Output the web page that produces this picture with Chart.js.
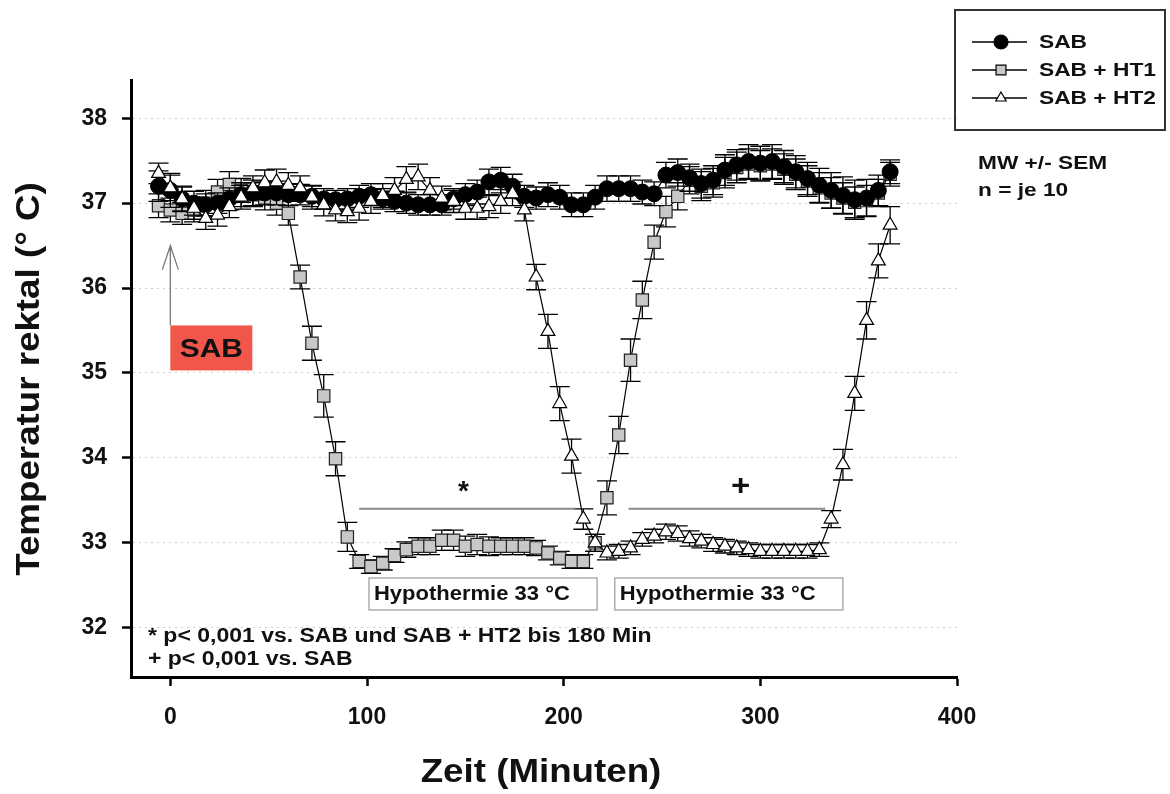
<!DOCTYPE html>
<html>
<head>
<meta charset="utf-8">
<script src="https://cdn.jsdelivr.net/npm/chart.js@4"></script>
<style>
  html, body { margin: 0; padding: 0; background: #fff; }
  #wrap { width: 1170px; height: 794px; }
</style>
</head>
<body>
<div id="wrap"><canvas id="chart" width="1170" height="794"></canvas></div>
<script>
// ---------- data (minutes, rectal temperature °C, SEM) ----------
const times = [
  -6, 0, 6, 12, 18, 24, 30, 36, 42, 48,
  54, 60, 66, 72, 78, 84, 90, 96, 102, 108,
  114, 120, 126, 132, 138, 144, 150, 156, 162, 168,
  174, 180, 186, 192, 198, 204, 210, 216, 222, 228,
  234, 240, 246, 252, 258, 264, 270, 276, 282, 288,
  294, 300, 306, 312, 318, 324, 330, 336, 342, 348,
  354, 360, 366
];

const sab = [
  37.2, 37.15, 37.05, 37.0, 36.98, 37.0, 37.05, 37.1, 37.12, 37.12,
  37.12, 37.1, 37.1, 37.08, 37.05, 37.04, 37.05, 37.08, 37.1, 37.05,
  37.02, 37.0, 36.98, 36.98, 36.98, 37.05, 37.1, 37.13, 37.25, 37.27,
  37.2, 37.08, 37.06, 37.1, 37.07, 36.98, 36.98, 37.07, 37.17, 37.17,
  37.17, 37.13, 37.11, 37.33, 37.36, 37.3, 37.23, 37.27, 37.39, 37.45,
  37.49, 37.47, 37.49, 37.43, 37.37, 37.29, 37.21, 37.15, 37.09, 37.04,
  37.06, 37.15, 37.37
];
const sabSem = [
  0.18, 0.2, 0.15, 0.14, 0.13, 0.12, 0.13, 0.14, 0.15, 0.14,
  0.14, 0.13, 0.12, 0.12, 0.12, 0.11, 0.12, 0.13, 0.13, 0.12,
  0.12, 0.12, 0.12, 0.12, 0.12, 0.12, 0.13, 0.14, 0.15, 0.15,
  0.14, 0.13, 0.13, 0.14, 0.14, 0.14, 0.14, 0.14, 0.15, 0.15,
  0.15, 0.14, 0.14, 0.15, 0.16, 0.16, 0.17, 0.17, 0.18, 0.18,
  0.2, 0.2, 0.2, 0.19, 0.19, 0.19, 0.2, 0.21, 0.22, 0.23,
  0.22, 0.18, 0.14
];

const ht1 = [
  36.97, 36.92, 36.88, 36.92, 37.0, 37.13, 37.22, 37.15, 37.1, 37.06,
  37.0, 36.88, 36.13, 35.35, 34.73, 33.99, 33.07, 32.78, 32.72, 32.76,
  32.85, 32.92, 32.96, 32.96, 33.03, 33.03, 32.96, 32.98, 32.96, 32.96,
  32.96, 32.96, 32.94, 32.88, 32.82, 32.78, 32.78, 33.0, 33.53, 34.27,
  35.15, 35.86, 36.54, 36.9, 37.08, 37.27, 37.2, 37.24, 37.36, 37.42,
  37.46, 37.44, 37.46, 37.4, 37.34, 37.26, 37.18, 37.12, 37.06, 37.01,
  37.03, 37.12, 37.34
];
const ht1Sem = [
  0.14, 0.14, 0.13, 0.14, 0.15, 0.15, 0.15, 0.14, 0.14, 0.14,
  0.14, 0.14, 0.14, 0.2, 0.25, 0.2, 0.17, 0.08, 0.08, 0.08,
  0.08, 0.09, 0.1, 0.1, 0.12, 0.12, 0.12, 0.12, 0.11, 0.1,
  0.1, 0.1, 0.09, 0.08, 0.08, 0.08, 0.08, 0.1, 0.2, 0.22,
  0.25, 0.22, 0.2, 0.18, 0.16, 0.16, 0.17, 0.17, 0.18, 0.18,
  0.18, 0.18, 0.18, 0.18, 0.18, 0.18, 0.18, 0.18, 0.18, 0.18,
  0.18, 0.16, 0.14
];

const ht2 = [
  37.35, 37.18, 37.05, 36.94, 36.82, 36.86, 36.96, 37.07, 37.18, 37.24,
  37.25, 37.21, 37.18, 37.07, 36.98, 36.92, 36.9, 36.94, 37.02, 37.09,
  37.15, 37.28, 37.31, 37.15, 37.06, 37.02, 36.94, 36.94, 36.96, 37.02,
  37.11, 36.92, 36.13, 35.49, 34.64, 34.02, 33.28, 33.0, 32.88, 32.9,
  32.94, 33.04, 33.08, 33.13, 33.11, 33.05, 33.02, 32.98, 32.96, 32.94,
  32.92, 32.9, 32.9, 32.9, 32.9, 32.9, 32.92, 33.28, 33.92, 34.76,
  35.62, 36.32, 36.74
];
const ht2Sem = [
  0.12, 0.15, 0.14, 0.13, 0.13, 0.13, 0.13, 0.14, 0.14, 0.15,
  0.15, 0.15, 0.14, 0.14, 0.13, 0.13, 0.13, 0.14, 0.14, 0.14,
  0.15, 0.15, 0.15, 0.15, 0.14, 0.13, 0.13, 0.13, 0.13, 0.14,
  0.14, 0.13, 0.15, 0.2, 0.2, 0.2, 0.12, 0.1, 0.08, 0.08,
  0.08, 0.08, 0.08, 0.09, 0.09, 0.09, 0.08, 0.08, 0.08, 0.08,
  0.08, 0.08, 0.08, 0.08, 0.08, 0.08, 0.08, 0.1, 0.18, 0.2,
  0.22, 0.2, 0.22
];

const xTicks = [0, 100, 200, 300, 400];
const yTicks = [32, 33, 34, 35, 36, 37, 38];

const FONT = "'Liberation Sans', Arial, sans-serif";
const pts = (ys) => times.map((t, i) => ({ x: t, y: ys[i] }));

// the original figure's lettering is a bit wider than plain Arial
function wideText(ctx, text, x, y, size, sx, align = "left") {
  ctx.save();
  ctx.font = `bold ${size}px ${FONT}`;
  ctx.textAlign = align;
  ctx.textBaseline = "middle";
  ctx.translate(x, y);
  ctx.scale(sx, 1);
  ctx.fillText(text, 0, 0);
  ctx.restore();
}

// ---------- error bars, drawn under each dataset's markers ----------
const errorBars = {
  id: "errorBars",
  beforeDatasetDraw(chart, args) {
    const ds = chart.data.datasets[args.index];
    if (!ds.sem) return;
    const { ctx, scales: { x, y } } = chart;
    ctx.save();
    ctx.strokeStyle = "#000";
    ctx.lineWidth = 1.3;
    ds.data.forEach((p, i) => {
      const px = x.getPixelForValue(p.x);
      const yHi = y.getPixelForValue(p.y + ds.sem[i]);
      const yLo = y.getPixelForValue(p.y - ds.sem[i]);
      ctx.beginPath();
      ctx.moveTo(px, yHi); ctx.lineTo(px, yLo);
      ctx.moveTo(px - 10, yHi); ctx.lineTo(px + 10, yHi);
      ctx.moveTo(px - 10, yLo); ctx.lineTo(px + 10, yLo);
      ctx.stroke();
    });
    ctx.restore();
  },
};

// ---------- annotations, legend, axis titles ----------
const extras = {
  id: "extras",
  afterDraw(chart) {
    const { ctx, scales: { x, y } } = chart;
    ctx.save();
    ctx.fillStyle = "#111";

    // axis titles
    wideText(ctx, "Zeit (Minuten)", 541, 773, 34, 1.08, "center");
    ctx.save();
    ctx.translate(30, 379);
    ctx.rotate(-Math.PI / 2);
    wideText(ctx, "Temperatur rektal (° C)", 0, 0, 34, 1.08, "center");
    ctx.restore();

    // SAB arrow + red label
    const ax = x.getPixelForValue(0);
    const aTop = y.getPixelForValue(36.5);
    const aBot = y.getPixelForValue(35.56);
    ctx.strokeStyle = "#777";
    ctx.lineWidth = 1.3;
    ctx.beginPath();
    ctx.moveTo(ax, aBot); ctx.lineTo(ax, aTop);
    ctx.moveTo(ax - 8, aTop + 24); ctx.lineTo(ax, aTop); ctx.lineTo(ax + 8, aTop + 24);
    ctx.stroke();
    ctx.fillStyle = "#f0564a";
    ctx.fillRect(ax, aBot, 82, 45);
    ctx.fillStyle = "#111";
    wideText(ctx, "SAB", ax + 41, aBot + 24, 26, 1.15, "center");

    // significance bars
    const sy = y.getPixelForValue(33.4);
    ctx.strokeStyle = "#8a8a8a";
    ctx.lineWidth = 2;
    ctx.beginPath();
    ctx.moveTo(x.getPixelForValue(96), sy); ctx.lineTo(x.getPixelForValue(206), sy);
    ctx.moveTo(x.getPixelForValue(233), sy); ctx.lineTo(x.getPixelForValue(333), sy);
    ctx.stroke();
    wideText(ctx, "*", x.getPixelForValue(149), sy - 17, 28, 1, "center");
    wideText(ctx, "+", x.getPixelForValue(290), sy - 22, 30, 1.1, "center");

    // hypothermia boxes
    [[101, 217], [226, 342]].forEach(([a, b]) => {
      const x0 = x.getPixelForValue(a), x1 = x.getPixelForValue(b);
      ctx.fillStyle = "#fff";
      ctx.fillRect(x0, 578, x1 - x0, 32);
      ctx.strokeStyle = "#999";
      ctx.lineWidth = 1.2;
      ctx.strokeRect(x0, 578, x1 - x0, 32);
      ctx.fillStyle = "#111";
      wideText(ctx, "Hypothermie 33 °C", x0 + 5, 594, 20, 1.1);
    });

    // footnotes
    wideText(ctx, "* p< 0,001 vs. SAB und SAB + HT2 bis 180 Min", 148, 636, 20, 1.15);
    wideText(ctx, "+ p< 0,001 vs. SAB", 148, 659, 20, 1.15);

    // legend box
    ctx.strokeStyle = "#333";
    ctx.lineWidth = 2;
    ctx.strokeRect(955, 10, 210, 120);
    const items = [
      ["SAB", "circle", "#000", 7],
      ["SAB + HT1", "rect", "#c8c8c8", 7],
      ["SAB + HT2", "triangle", "#fff", 6],
    ];
    items.forEach(([label, style, fill, r], i) => {
      const ly = 42 + i * 28;
      ctx.strokeStyle = "#000";
      ctx.lineWidth = 1.3;
      ctx.beginPath();
      ctx.moveTo(972, ly); ctx.lineTo(1027, ly);
      ctx.stroke();
      ctx.fillStyle = fill;
      ctx.lineWidth = 1.2;
      Chart.helpers.drawPoint(ctx, { pointStyle: style, radius: r, rotation: 0, borderWidth: 1.2 }, 1001, ly);
      ctx.fillStyle = "#111";
      wideText(ctx, label, 1039, ly + 1, 18.5, 1.23);
    });

    wideText(ctx, "MW +/- SEM", 978, 164, 18, 1.26);
    wideText(ctx, "n = je 10", 978, 191, 18, 1.26);

    ctx.restore();
  },
};

const tickFont = { family: FONT, size: 23, weight: "bold" };

new Chart(document.getElementById("chart"), {
  type: "line",
  data: {
    datasets: [
      {
        label: "SAB", data: pts(sab), sem: sabSem, order: 2,
        borderColor: "#000", borderWidth: 1.2,
        pointStyle: "circle", pointRadius: 8,
        pointBackgroundColor: "#000", pointBorderColor: "#000", pointBorderWidth: 1,
      },
      {
        label: "SAB + HT1", data: pts(ht1), sem: ht1Sem, order: 3,
        borderColor: "#000", borderWidth: 1.2,
        pointStyle: "rect", pointRadius: 8.7,
        pointBackgroundColor: "#c8c8c8", pointBorderColor: "#222", pointBorderWidth: 1.2,
      },
      {
        label: "SAB + HT2", data: pts(ht2), sem: ht2Sem, order: 1,
        borderColor: "#000", borderWidth: 1.2,
        pointStyle: "triangle", pointRadius: 8,
        pointBackgroundColor: "#fff", pointBorderColor: "#000", pointBorderWidth: 1.2,
      },
    ],
  },
  options: {
    responsive: false,
    animation: false,
    layout: { padding: { left: 0, top: 80, right: 213, bottom: 0 } },
    plugins: { legend: { display: false }, tooltip: { enabled: false } },
    elements: { line: { tension: 0 } },
    scales: {
      x: {
        type: "linear", min: -20, max: 400,
        afterFit: (s) => { s.height = 117; },
        afterBuildTicks: (s) => { s.ticks = xTicks.map((v) => ({ value: v })); },
        ticks: { font: tickFont, color: "#111", padding: 18, maxRotation: 0 },
        grid: { drawOnChartArea: false, tickLength: 9, tickWidth: 2.5, tickColor: "#000" },
        border: { color: "#000", width: 3 },
      },
      y: {
        min: 31.42, max: 38.45,
        afterFit: (s) => { s.width = 131; },
        afterBuildTicks: (s) => { s.ticks = yTicks.map((v) => ({ value: v })); },
        ticks: { font: tickFont, color: "#111", padding: 15 },
        grid: { color: "#cfcfcf", lineWidth: 1, tickLength: 9, tickWidth: 2.5, tickColor: "#000" },
        border: { color: "#000", width: 3, dash: [2, 4] },
      },
    },
  },
  plugins: [errorBars, extras],
});
</script>
</body>
</html>
